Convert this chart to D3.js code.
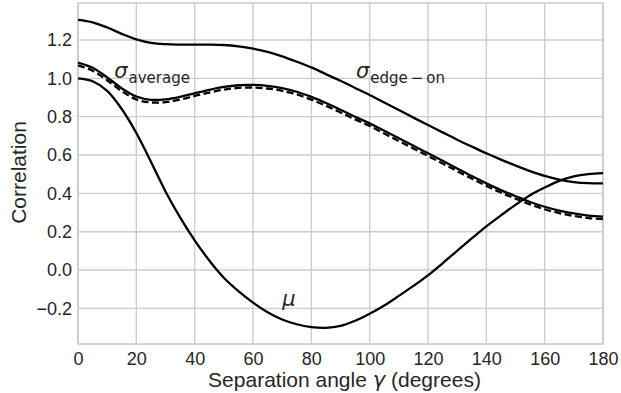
<!DOCTYPE html>
<html>
<head>
<meta charset="utf-8">
<script src="https://cdn.jsdelivr.net/npm/d3@7"></script>
<style>
	body { margin: 0; background: #fff; }
	svg { display: block; }
	.tick-label { font-family: 'Liberation Sans', Arial, sans-serif; font-size: 18px; fill: #262626; }
	.axis-label { font-family: 'Liberation Sans', Arial, sans-serif; font-size: 21px; fill: #262626; }
	.grid line { stroke: #cccccc; stroke-width: 1.4; }
	.curve { fill: none; stroke: #000; stroke-width: 2.3; }
	.mathlabel { font-family: 'DejaVu Sans', sans-serif; fill: #262626; }
</style>
</head>
<body>
<div id="chart"></div>
<script>
let width = 621
let height = 393
let margin = { top: 3, right: 18, bottom: 49, left: 78 }

// separation angle, degrees
let angles = [0, 5, 10, 15, 20, 25, 30, 35, 40, 45, 50, 55, 60, 65, 70, 75, 80, 85, 90,
	95, 100, 105, 110, 115, 120, 125, 130, 135, 140, 145, 150, 155, 160, 165, 170, 175, 180]

let mu = [1.000, 0.985, 0.935, 0.840, 0.715, 0.565, 0.410, 0.275, 0.155, 0.050, -0.040, -0.110,
	-0.170, -0.220, -0.258, -0.283, -0.298, -0.302, -0.292, -0.265, -0.228, -0.185, -0.135,
	-0.083, -0.028, 0.035, 0.100, 0.165, 0.228, 0.285, 0.340, 0.390, 0.430, 0.465, 0.488, 0.500, 0.505]

let sigmaEdge = [1.305, 1.292, 1.265, 1.232, 1.203, 1.185, 1.178, 1.176, 1.176, 1.176, 1.174, 1.167,
	1.155, 1.138, 1.115, 1.087, 1.057, 1.022, 0.987, 0.950, 0.913, 0.874, 0.835, 0.795, 0.756,
	0.718, 0.680, 0.644, 0.609, 0.576, 0.545, 0.516, 0.491, 0.472, 0.459, 0.453, 0.452]

let sigmaAverage = [1.082, 1.055, 1.005, 0.948, 0.905, 0.888, 0.890, 0.903, 0.922, 0.940, 0.955, 0.964,
	0.966, 0.961, 0.949, 0.930, 0.903, 0.871, 0.836, 0.800, 0.765, 0.726, 0.687, 0.648, 0.609,
	0.570, 0.530, 0.490, 0.452, 0.417, 0.385, 0.355, 0.330, 0.310, 0.295, 0.284, 0.278]

let sigmaDashed = [1.068, 1.040, 0.990, 0.933, 0.890, 0.874, 0.876, 0.889, 0.908, 0.926, 0.941, 0.950,
	0.952, 0.947, 0.935, 0.916, 0.889, 0.857, 0.822, 0.786, 0.751, 0.712, 0.673, 0.634, 0.595,
	0.556, 0.516, 0.477, 0.439, 0.404, 0.372, 0.342, 0.317, 0.297, 0.282, 0.271, 0.265]

let xTicks = [0, 20, 40, 60, 80, 100, 120, 140, 160, 180]
let yTicks = [-0.2, 0.0, 0.2, 0.4, 0.6, 0.8, 1.0, 1.2]

let series = [
	{ values: sigmaEdge, dashed: false },
	{ values: sigmaAverage, dashed: false },
	{ values: sigmaDashed, dashed: true },
	{ values: mu, dashed: false }
]

let labels = [
	{ main: 'σ', sub: 'average', x: 12.4, y: 1.0 },
	{ main: 'σ', sub: 'edge\u2009−\u2009on', x: 95.3, y: 1.0 },
	{ main: 'μ', sub: '', x: 70, y: -0.19 }
]

let innerW = width - margin.left - margin.right
let innerH = height - margin.top - margin.bottom

let x = d3.scaleLinear().domain([0, 180]).range([0, innerW])
let y = d3.scaleLinear().domain([-0.386, 1.393]).range([innerH, 0])

let svg = d3.select('#chart')
	.append('svg')
	.attr('width', width)
	.attr('height', height)

let g = svg.append('g')
	.attr('transform', `translate(${margin.left},${margin.top})`)

// grid
let grid = g.append('g').attr('class', 'grid')

grid.selectAll('.gx')
	.data(xTicks)
	.enter()
	.append('line')
	.attr('x1', d => x(d))
	.attr('x2', d => x(d))
	.attr('y1', 0)
	.attr('y2', innerH)

grid.selectAll('.gy')
	.data(yTicks)
	.enter()
	.append('line')
	.attr('x1', 0)
	.attr('x2', innerW)
	.attr('y1', d => y(d))
	.attr('y2', d => y(d))

// frame
g.append('rect')
	.attr('x', 0)
	.attr('y', 0)
	.attr('width', innerW)
	.attr('height', innerH)
	.attr('fill', 'none')
	.attr('stroke', '#cccccc')
	.attr('stroke-width', 1.6)

// axes (labels only)
let xAxis = g.append('g')
	.attr('transform', `translate(0,${innerH})`)
	.call(d3.axisBottom(x).tickValues(xTicks).tickSize(0).tickPadding(8).tickFormat(d3.format('d')))

let yAxis = g.append('g')
	.call(d3.axisLeft(y).tickValues(yTicks).tickSize(0).tickPadding(6)
		.tickFormat(d => d3.format('.1f')(d).replace('-', '−')))

;[xAxis, yAxis].forEach(a => {
	a.select('.domain').remove()
	a.selectAll('text')
		.attr('class', 'tick-label')
		.attr('fill', null)
	a.attr('font-family', null).attr('font-size', null)
})

// curves
let line = d3.line()
	.x((d, i) => x(angles[i]))
	.y(d => y(d))
	.curve(d3.curveCatmullRom.alpha(0.5))

g.selectAll('.curve')
	.data(series)
	.enter()
	.append('path')
	.attr('class', 'curve')
	.attr('d', d => line(d.values))
	.attr('stroke-dasharray', d => d.dashed ? '7,3.5' : null)

// math labels
let lab = g.selectAll('.mathlabel')
	.data(labels)
	.enter()
	.append('text')
	.attr('class', 'mathlabel')
	.attr('x', d => x(d.x))
	.attr('y', d => y(d.y))

lab.append('tspan')
	.attr('font-size', 21)
	.attr('font-style', 'italic')
	.text(d => d.main)

lab.filter(d => d.sub)
	.append('tspan')
	.attr('font-size', 15)
	.attr('dy', 4.5)
	.attr('dx', 1)
	.text(d => d.sub)

// axis titles
let xTitle = svg.append('text')
	.attr('class', 'axis-label')
	.attr('x', margin.left + innerW / 2 + 4)
	.attr('y', 386.5)
	.attr('text-anchor', 'middle')

xTitle.append('tspan').text('Separation angle ')
xTitle.append('tspan')
	.attr('font-family', 'DejaVu Sans')
	.attr('font-style', 'italic')
	.text('γ')
xTitle.append('tspan').text(' (degrees)')

svg.append('text')
	.attr('class', 'axis-label')
	.attr('transform', `translate(26,${margin.top + innerH / 2 - 1}) rotate(-90)`)
	.attr('text-anchor', 'middle')
	.text('Correlation')
</script>
</body>
</html>
